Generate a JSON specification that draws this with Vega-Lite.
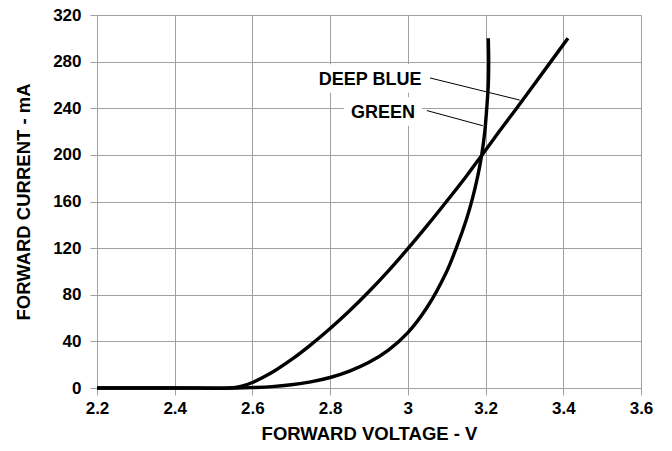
{
  "$schema": "https://vega.github.io/schema/vega-lite/v6.json",
  "width": 544,
  "height": 373,
  "autosize": {"type": "none"},
  "padding": {"left": 97, "top": 15, "right": 31, "bottom": 63},
  "background": "white",
  "config": {
    "view": {"stroke": null},
    "font": "Liberation Sans",
    "axis": {
      "labelFont": "Liberation Sans",
      "labelFontWeight": "bold",
      "labelFontSize": 17,
      "labelColor": "black",
      "labelFlush": false,
      "titleFont": "Liberation Sans",
      "titleFontWeight": "bold",
      "titleFontSize": 18.5,
      "titleColor": "black",
      "gridColor": "#a0a0a0",
      "gridWidth": 1,
      "gridOpacity": 1,
      "domainColor": "#a0a0a0",
      "domainWidth": 1,
      "tickColor": "#a0a0a0",
      "tickSize": 7
    }
  },
  "datasets": {
    "curves": [
      {"series": "DEEP BLUE", "i": 1, "v": 2.2, "mA": 0},
      {"series": "DEEP BLUE", "i": 2, "v": 2.4, "mA": 0},
      {"series": "DEEP BLUE", "i": 3, "v": 2.54, "mA": 0},
      {"series": "DEEP BLUE", "i": 4, "v": 2.57, "mA": 1.3},
      {"series": "DEEP BLUE", "i": 5, "v": 2.6, "mA": 4.75},
      {"series": "DEEP BLUE", "i": 6, "v": 2.65, "mA": 13.25},
      {"series": "DEEP BLUE", "i": 7, "v": 2.7, "mA": 24.25},
      {"series": "DEEP BLUE", "i": 8, "v": 2.75, "mA": 37},
      {"series": "DEEP BLUE", "i": 9, "v": 2.8, "mA": 51},
      {"series": "DEEP BLUE", "i": 10, "v": 2.85, "mA": 66.25},
      {"series": "DEEP BLUE", "i": 11, "v": 2.9, "mA": 82.75},
      {"series": "DEEP BLUE", "i": 12, "v": 2.95, "mA": 100.5},
      {"series": "DEEP BLUE", "i": 13, "v": 3.0, "mA": 119.5},
      {"series": "DEEP BLUE", "i": 14, "v": 3.05, "mA": 139.5},
      {"series": "DEEP BLUE", "i": 15, "v": 3.1, "mA": 160.25},
      {"series": "DEEP BLUE", "i": 16, "v": 3.15, "mA": 181.5},
      {"series": "DEEP BLUE", "i": 17, "v": 3.19, "mA": 199.5},
      {"series": "DEEP BLUE", "i": 18, "v": 3.235, "mA": 220},
      {"series": "DEEP BLUE", "i": 19, "v": 3.28, "mA": 240},
      {"series": "DEEP BLUE", "i": 20, "v": 3.324, "mA": 260},
      {"series": "DEEP BLUE", "i": 21, "v": 3.368, "mA": 280},
      {"series": "DEEP BLUE", "i": 22, "v": 3.412, "mA": 300},
      {"series": "GREEN", "i": 1, "v": 2.2, "mA": 0},
      {"series": "GREEN", "i": 2, "v": 2.4, "mA": 0},
      {"series": "GREEN", "i": 3, "v": 2.56, "mA": 0},
      {"series": "GREEN", "i": 4, "v": 2.6, "mA": 0.4},
      {"series": "GREEN", "i": 5, "v": 2.65, "mA": 1.2},
      {"series": "GREEN", "i": 6, "v": 2.7, "mA": 2.8},
      {"series": "GREEN", "i": 7, "v": 2.75, "mA": 5.3},
      {"series": "GREEN", "i": 8, "v": 2.8, "mA": 9},
      {"series": "GREEN", "i": 9, "v": 2.85, "mA": 14.5},
      {"series": "GREEN", "i": 10, "v": 2.9, "mA": 22},
      {"series": "GREEN", "i": 11, "v": 2.95, "mA": 32.5},
      {"series": "GREEN", "i": 12, "v": 3.0, "mA": 47.5},
      {"series": "GREEN", "i": 13, "v": 3.05, "mA": 69.5},
      {"series": "GREEN", "i": 14, "v": 3.1, "mA": 100},
      {"series": "GREEN", "i": 15, "v": 3.125, "mA": 120.5},
      {"series": "GREEN", "i": 16, "v": 3.15, "mA": 144},
      {"series": "GREEN", "i": 17, "v": 3.165, "mA": 161},
      {"series": "GREEN", "i": 18, "v": 3.18, "mA": 182},
      {"series": "GREEN", "i": 19, "v": 3.19, "mA": 200},
      {"series": "GREEN", "i": 20, "v": 3.198, "mA": 220},
      {"series": "GREEN", "i": 21, "v": 3.203, "mA": 240},
      {"series": "GREEN", "i": 22, "v": 3.207, "mA": 260},
      {"series": "GREEN", "i": 23, "v": 3.208, "mA": 280},
      {"series": "GREEN", "i": 24, "v": 3.207, "mA": 300}
    ],
    "labels": [
      {"label": "DEEP BLUE", "tv": 2.903, "tmA": 264, "v1": 3.057, "mA1": 266, "v2": 3.288, "mA2": 247},
      {"label": "GREEN", "tv": 2.936, "tmA": 236, "v1": 3.049, "mA1": 238, "v2": 3.193, "mA2": 225}
    ]
  },
  "layer": [
    {
      "data": {"name": "curves"},
      "mark": {"type": "line", "color": "black", "strokeWidth": 3.4, "interpolate": "catmull-rom", "strokeCap": "butt"},
      "encoding": {
        "x": {
          "field": "v", "type": "quantitative",
          "scale": {"domain": [2.2, 3.6], "nice": false, "zero": false},
          "axis": {"title": "FORWARD VOLTAGE - V", "values": [2.2, 2.4, 2.6, 2.8, 3.0, 3.2, 3.4, 3.6], "format": "~g", "labelPadding": 5, "titlePadding": 8}
        },
        "y": {
          "field": "mA", "type": "quantitative",
          "scale": {"domain": [0, 320], "nice": false},
          "axis": {"title": "FORWARD CURRENT - mA", "values": [0, 40, 80, 120, 160, 200, 240, 280, 320], "labelPadding": 9, "titlePadding": 19}
        },
        "detail": {"field": "series"},
        "order": {"field": "i", "type": "quantitative"}
      }
    },
    {
      "data": {"name": "labels"},
      "mark": {"type": "rule", "color": "black", "strokeWidth": 1},
      "encoding": {
        "x": {"field": "v1", "type": "quantitative"},
        "y": {"field": "mA1", "type": "quantitative"},
        "x2": {"field": "v2"},
        "y2": {"field": "mA2"}
      }
    },
    {
      "data": {"name": "labels"},
      "mark": {"type": "text", "font": "Liberation Sans", "fontWeight": "bold", "fontSize": 18, "stroke": "white", "strokeWidth": 16, "strokeJoin": "round", "fill": "white"},
      "encoding": {
        "x": {"field": "tv", "type": "quantitative"},
        "y": {"field": "tmA", "type": "quantitative"},
        "text": {"field": "label"}
      }
    },
    {
      "data": {"name": "labels"},
      "mark": {"type": "text", "font": "Liberation Sans", "fontWeight": "bold", "fontSize": 18, "color": "black"},
      "encoding": {
        "x": {"field": "tv", "type": "quantitative"},
        "y": {"field": "tmA", "type": "quantitative"},
        "text": {"field": "label"}
      }
    }
  ]
}
